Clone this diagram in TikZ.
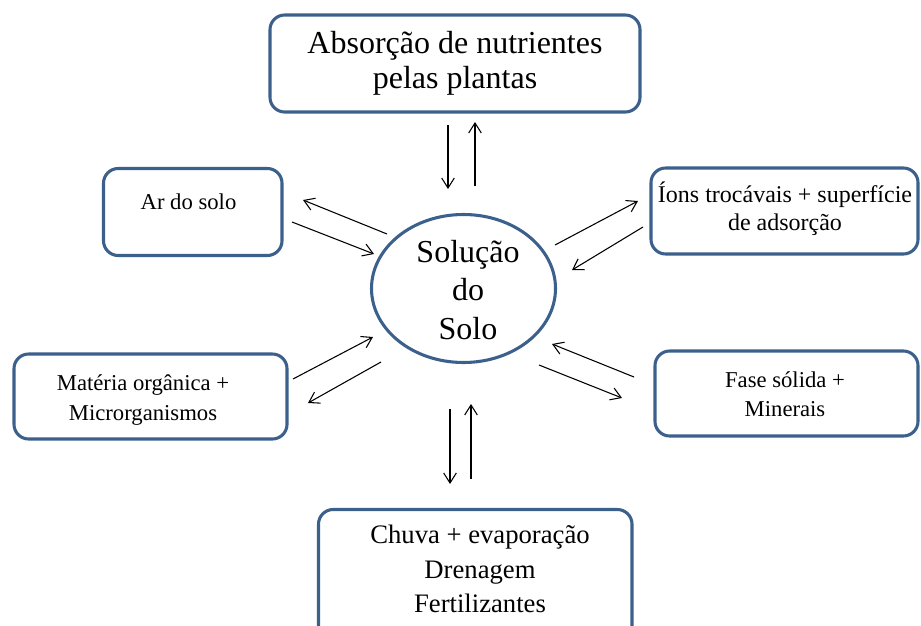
\documentclass[tikz,border=0pt]{standalone}
\usepackage{fontspec}
\setmainfont{Liberation Serif}
\usetikzlibrary{arrows.meta,fit,shapes.geometric}
\definecolor{boxblue}{RGB}{60,96,140}
\tikzset{
  box/.style={draw=boxblue, line width=2.3pt, rounded corners=11pt, inner sep=0pt},
  flow/.style={-{Straight Barb[length=7.5pt,width=9.5pt]}, line width=0.8pt},
  lbl/.style={align=center, inner sep=0pt},
}
\begin{document}
\begin{tikzpicture}[x=0.75pt,y=-0.75pt]
\useasboundingbox (0,0) rectangle (921,625);
\clip (0,0) rectangle (921,625);
\fill[white] (0,0) rectangle (921,625);

% boxes
\node[box, fit={(270,15) (640,112)}] (top) {};
\node[box, fit={(103.5,168.5) (282,255.5)}] (ar) {};
\node[box, fit={(651,168) (918,254)}] (ions) {};
\node[box, fit={(14,354) (287,439)}] (mat) {};
\node[box, fit={(655,351) (918,436)}] (fase) {};
\node[box, fit={(318.5,509.5) (632,670)}] (bot) {};
\node[draw=boxblue, line width=2.3pt, ellipse, minimum width=138pt, minimum height=111pt, inner sep=0pt] (sol) at (463.5,288.5) {};

% texts
\node[lbl, font=\fontsize{24}{26.5}\selectfont] (ttop) at (455,63) {Absorção de nutrientes\\pelas plantas};
\node[lbl, font=\fontsize{24}{29}\selectfont] (tsol) at (468,290) {Solução\\do\\Solo};
\node[lbl, font=\fontsize{17}{20}\selectfont] (tar) at (188.5,202) {Ar do solo};
\node[lbl, font=\fontsize{18}{21}\selectfont] (tions) at (785,209) {Íons trocávais + superfície\\de adsorção};
\node[lbl, font=\fontsize{17}{23}\selectfont] (tmat) at (143,400) {Matéria orgânica +\\Microrganismos};
\node[lbl, font=\fontsize{17}{22}\selectfont] (tfase) at (785,394) {Fase sólida +\\Minerais};
\node[lbl, font=\fontsize{20}{26}\selectfont] (tbot) at (480,569) {Chuva + evaporação\\Drenagem\\Fertilizantes};

% arrow end points
\coordinate (a1s) at (448,125); \coordinate (a1e) at (448,189);
\coordinate (a2s) at (475,186); \coordinate (a2e) at (475,122);
\coordinate (b1s) at (387,234); \coordinate (b1e) at (303,200);
\coordinate (b2s) at (292,222); \coordinate (b2e) at (374,254);
\coordinate (c1s) at (555,245); \coordinate (c1e) at (638,201);
\coordinate (c2s) at (643,227); \coordinate (c2e) at (572,270);
\coordinate (d1s) at (293,379); \coordinate (d1e) at (373,337);
\coordinate (d2s) at (381,362); \coordinate (d2e) at (308,403);
\coordinate (e1s) at (634,377); \coordinate (e1e) at (552,344);
\coordinate (e2s) at (539,365); \coordinate (e2e) at (622,398);
\coordinate (f1s) at (450,409); \coordinate (f1e) at (450,484);
\coordinate (f2s) at (471,479); \coordinate (f2e) at (471,404);

\foreach \p in {a1,a2,b1,b2,c1,c2,d1,d2,e1,e2,f1,f2}
  \draw[flow] (\p s) -- (\p e);
\end{tikzpicture}
\end{document}
